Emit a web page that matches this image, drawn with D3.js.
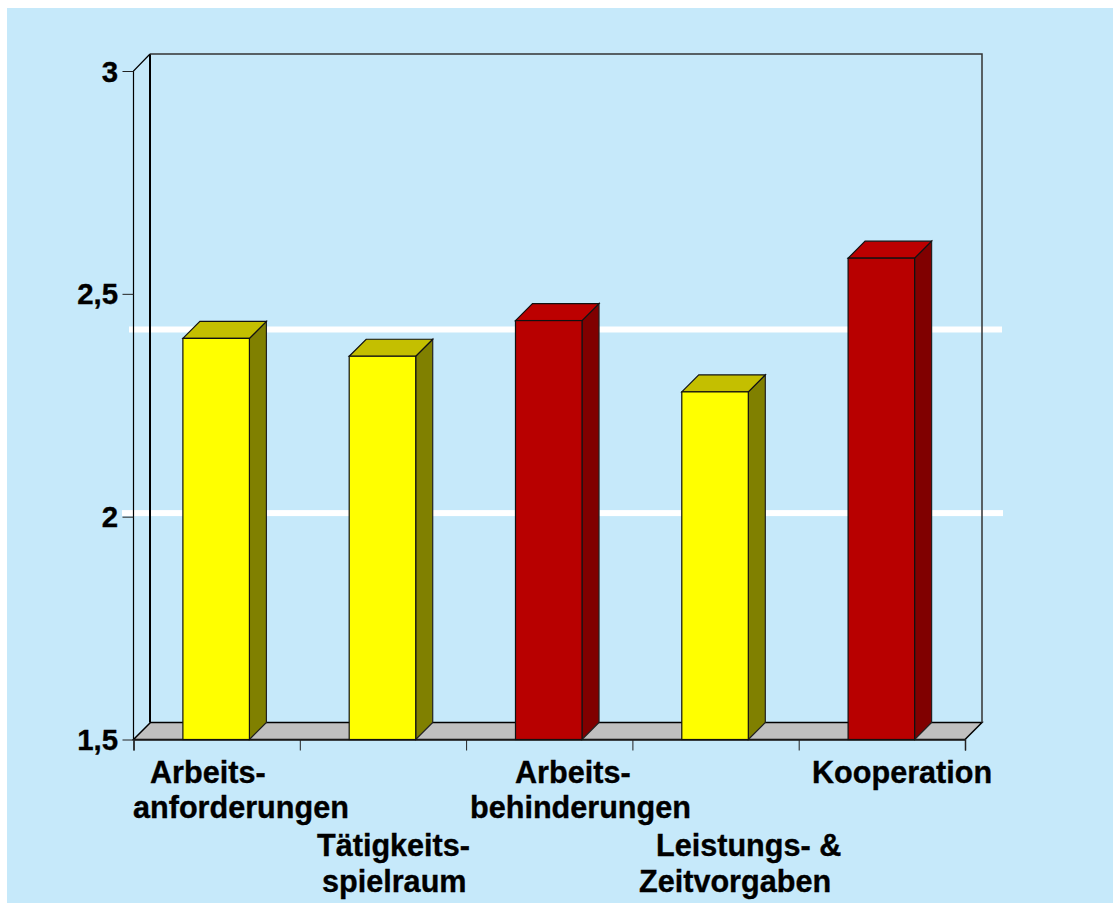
<!DOCTYPE html>
<html><head><meta charset="utf-8">
<script src="https://cdn.jsdelivr.net/npm/d3@7/dist/d3.min.js"></script>
<style>html,body{margin:0;padding:0;background:#fff}svg{display:block}text{font-family:"Liberation Sans",Arial,sans-serif;font-weight:700;fill:#000;stroke:#000;stroke-width:.35px}</style>
</head><body><svg id="c" width="1113" height="903"></svg>
<script>
const categories = ["Arbeitsanforderungen","Tätigkeitsspielraum","Arbeitsbehinderungen","Leistungen","Kooperation"];
const values = [2.40, 2.36, 2.44, 2.28, 2.58];
const groups = ["y","y","r","y","r"];
const yTicks = [1.5, 2, 2.5, 3];
const refLines = [2.42, 2.008];
const labelLines = [["Arbeits-","anforderungen"],["Tätigkeits-","spielraum"],["Arbeits-","behinderungen"],["Leistungs- &","Zeitvorgaben"],["Kooperation"]];

// layout
const W=1113,H=903,depth=17,fs=30.6,tickFs=29.4;
const plotL=133.5,plotR=965,plotB=739.5,plotT=71;
const labelX=[[150,133],[317,322],[515,470],[656,639],[812]];
const labelY=[[783,818],[856,892],[783,818],[856,892],[783]];
const refX=[[129,1002],[122,1003]];
const palette={y:{front:"#ffff00",side:"#808000",top:"#c4bf00"},r:{front:"#b80000",side:"#800000",top:"#bc0000"}};

const svg=d3.select("#c");
svg.append("rect").attr("x",7).attr("y",8).attr("width",W-7).attr("height",H-8).attr("fill","#c6e9fa");
const y=d3.scaleLinear().domain([1.5,3]).range([plotB,plotT]);
const x=d3.scaleBand().domain(categories).range([plotL-0.5,plotR-0.5]).paddingInner(0.6).paddingOuter(0.3);
const xEdge=d3.scaleLinear().domain([0,categories.length]).range([plotL,plotR]);

// reference lines
svg.selectAll(".ref").data(refLines).join("rect").attr("class","ref")
  .attr("x",(d,i)=>refX[i][0]).attr("width",(d,i)=>refX[i][1]-refX[i][0])
  .attr("y",d=>y(d)-3).attr("height",6).attr("fill","#fff");

// floor
svg.append("path").attr("fill","#c0c0c0").attr("stroke","#000").attr("stroke-width",1.5)
  .attr("d",d3.line()([[plotL,plotB],[plotL+depth,plotB-depth],[plotR+depth,plotB-depth],[plotR,plotB]])+"Z");

// walls
const wall=svg.append("g").attr("fill","none");
wall.append("path").attr("stroke","#000").attr("stroke-width",2).attr("d",d3.line()([[plotL+depth-.5,plotB-depth],[plotL+depth-.5,plotT-depth]]));
wall.append("path").attr("stroke","#333").attr("stroke-width",1.5).attr("d",d3.line()([[plotL+depth-.5,plotT-depth],[plotR+depth,plotT-depth],[plotR+depth,plotB-depth]]));
wall.append("path").attr("stroke","#000").attr("stroke-width",1.2).attr("d",d3.line()([[plotL,plotB],[plotL,plotT],[plotL+depth-.5,plotT-depth]]));

// axes
const ax=svg.append("g").attr("transform",`translate(${plotL},0)`)
  .call(d3.axisLeft(y).tickValues(yTicks).tickSize(11).tickPadding(5).tickFormat(d=>String(d).replace(".",",")));
ax.select(".domain").remove();
ax.selectAll("line").attr("stroke","#222").attr("stroke-width",1);
ax.selectAll("text").attr("font-size",tickFs).attr("dy",0).attr("y",10).style("font-family",'"Liberation Sans"').attr("x",-15.5);

const bx=svg.append("g").attr("transform",`translate(0,${plotB})`)
  .call(d3.axisBottom(xEdge).tickValues(d3.range(categories.length+1)).tickSize(11).tickFormat(""));
bx.select(".domain").attr("stroke","#222").attr("stroke-width",1.5);
bx.selectAll("line").attr("stroke","#222").attr("stroke-width",1);

// bars
const bars=svg.selectAll(".bar").data(categories).join("g").attr("class","bar");
bars.each(function(c,i){
  const g=d3.select(this),x0=x(c),x1=x0+x.bandwidth(),yt=y(values[i]),p=palette[groups[i]];
  const ln=d3.line();
  g.append("path").attr("fill",p.side).attr("stroke","#222").attr("stroke-width",1.2)
    .attr("d",ln([[x1,yt],[x1+depth,yt-depth],[x1+depth,plotB-depth],[x1,plotB]])+"Z");
  g.append("path").attr("fill",p.top).attr("stroke","#111").attr("stroke-width",1.2)
    .attr("d",ln([[x0,yt],[x0+depth,yt-depth],[x1+depth,yt-depth],[x1,yt]])+"Z");
  g.append("rect").attr("x",x0).attr("y",yt).attr("width",x.bandwidth()).attr("height",plotB-yt)
    .attr("fill",p.front).attr("stroke","#111").attr("stroke-width",1.2);
});

// category labels
labelLines.forEach((lines,i)=>lines.forEach((t,j)=>{
  svg.append("text").attr("x",labelX[i][j]).attr("y",labelY[i][j]).attr("font-size",fs).text(t);
}));
</script></body></html>
